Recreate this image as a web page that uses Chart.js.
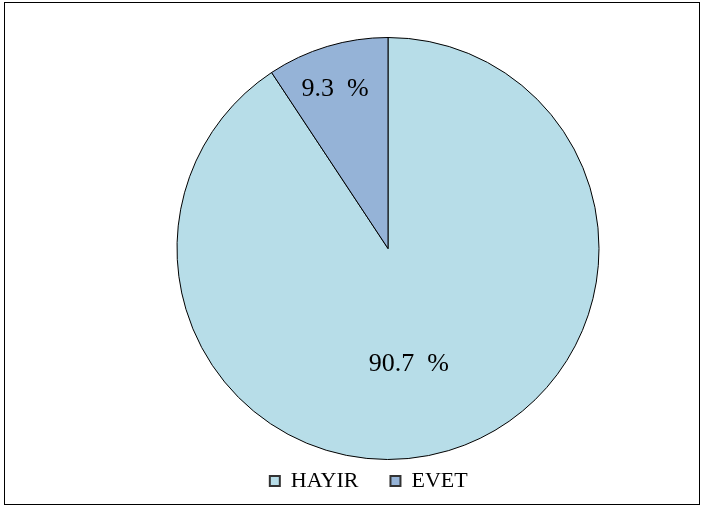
<!DOCTYPE html>
<html>
<head>
<meta charset="utf-8">
<script src="https://cdn.jsdelivr.net/npm/chart.js@4"></script>
<style>
  html, body { margin: 0; padding: 0; background: #fff; }
  #frame {
    position: absolute; left: 4px; top: 2px;
    width: 696px; height: 503px;
    border: 1.5px solid #000; box-sizing: border-box;
  }
  #wrap { position: absolute; left: 0; top: 0; width: 704px; height: 509px; }
</style>
</head>
<body>
<div id="frame"></div>
<div id="wrap"><canvas id="pieChart"></canvas></div>
<script>
// dữ liệu biểu đồ
const categories = ["HAYIR", "EVET"];
const values = [90.7, 9.3];
const colors = ["#B7DDE8", "#95B3D7"];

const serif = "'Liberation Serif', 'Times New Roman', serif";

// plugin vẽ nhãn phần trăm
const percentLabels = {
    id: "percentLabels",
    afterDatasetsDraw(chart) {
        const ctx = chart.ctx;
        const arcs = chart.getDatasetMeta(0).data;
        ctx.save();
        ctx.font = "26px " + serif;
        ctx.fillStyle = "#000";
        ctx.textAlign = "center";
        ctx.textBaseline = "middle";
        arcs.forEach((arc, i) => {
            const p = arc.getProps(["x", "y", "startAngle", "endAngle", "outerRadius"], true);
            const mid = (p.startAngle + p.endAngle) / 2;
            const big = values[i] >= 20;
            const f = big ? 0.57 : 0.79;
            const x = p.x + Math.cos(mid) * p.outerRadius * f * (big ? 0.6 : 1.1);
            const y = p.y + Math.sin(mid) * p.outerRadius * f;
            ctx.fillText(values[i].toFixed(1) + "  %", x, y);
        });
        ctx.restore();
    }
};

new Chart(document.getElementById("pieChart"), {
    type: "pie",
    data: {
        labels: categories,
        datasets: [{
            data: values,
            backgroundColor: colors,
            borderColor: "#000",
            borderWidth: 1
        }]
    },
    options: {
        responsive: true,
        maintainAspectRatio: false,
        animation: false,
        events: [],
        layout: { padding: { top: 37, bottom: 7, left: 72 } },
        plugins: {
            tooltip: { enabled: false },
            legend: {
                position: "bottom",
                labels: {
                    boxWidth: 10,
                    boxHeight: 10,
                    padding: 10,
                    color: "#000",
                    font: { family: serif, size: 22 },
                    generateLabels(chart) {
                        const items = Chart.overrides.pie.plugins.legend.labels.generateLabels(chart);
                        items.forEach((it, i) => {
                            it.lineWidth = 2;
                            it.strokeStyle = "#333";
                            // khoảng trống sau chữ để dời chú thích như bản gốc
                            it.text = it.text + (i === 0 ? "    " : "       ");
                        });
                        return items;
                    }
                }
            }
        }
    },
    plugins: [percentLabels]
});
</script>
</body>
</html>
